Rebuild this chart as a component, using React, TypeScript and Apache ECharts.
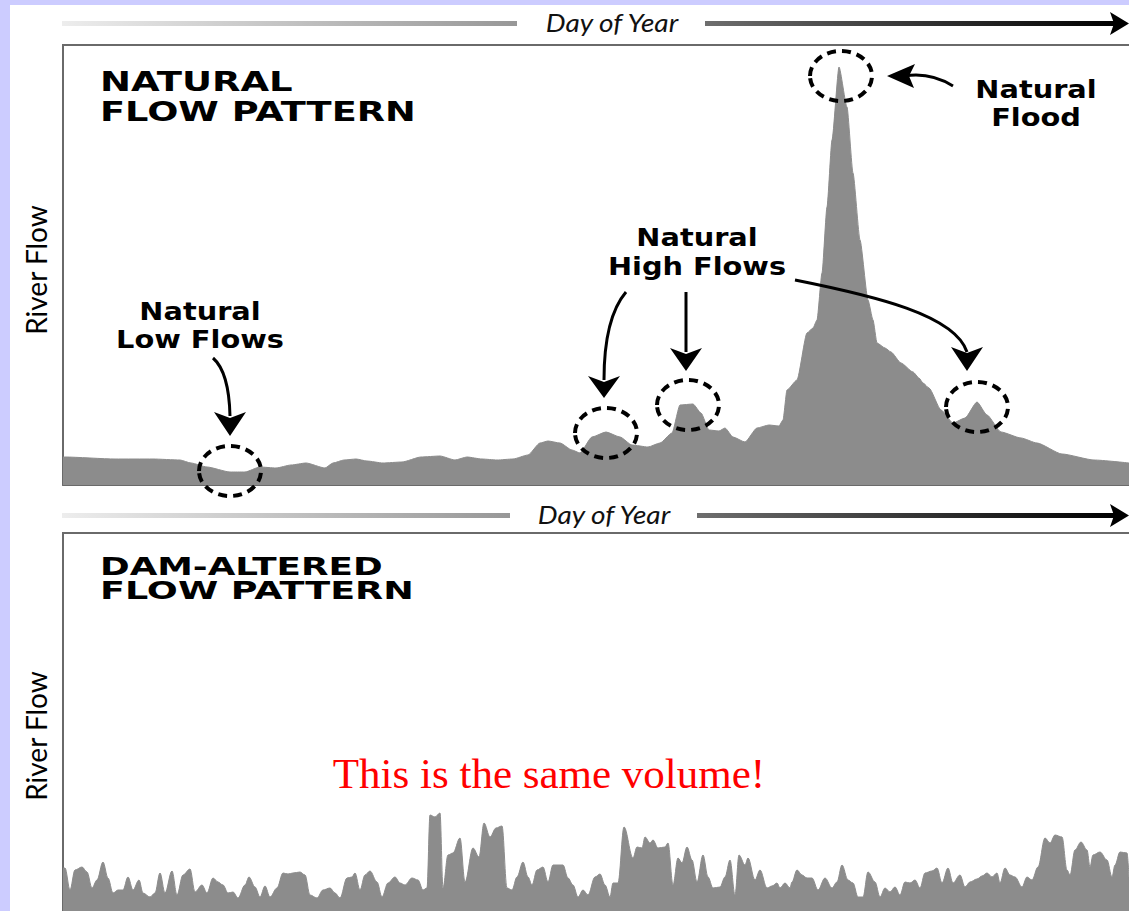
import React, { useEffect, useRef } from 'react';
import * as echarts from 'echarts';

// Natural flow pattern: position along the year (0..1066) and river flow
const naturalDay = [0, 2, 52, 90, 117, 128, 144, 167, 182, 197, 213, 228, 243, 262, 270, 281, 293, 304, 320, 339, 358, 377, 392, 404, 419, 434, 450, 465, 477, 485, 497, 509, 517, 529, 543, 557, 569, 585, 597, 609, 617, 630, 638, 646, 656, 662, 670, 682, 694, 706, 716, 720, 724, 734, 744, 750, 754, 759, 764, 769, 776, 784, 790, 797, 805, 810, 814, 822, 828, 838, 850, 856, 860, 866, 878, 890, 902, 914, 924, 938, 958, 974, 999, 1031, 1066];
const naturalFlow = [28, 28, 26, 26, 25, 22, 18, 13, 13, 18, 17, 20, 22, 17, 22, 25, 26, 24, 22, 23, 28, 29, 25, 28, 26, 25, 26, 30, 42, 44, 42, 35, 32, 48, 53, 48, 40, 38, 42, 52, 80, 81, 72, 55, 54, 57, 48, 43, 57, 60, 59, 65, 95, 105, 152, 157, 165, 212, 278, 345, 418, 378, 312, 245, 185, 165, 142, 137, 133, 122, 113, 107, 102, 97, 75, 62, 67, 83, 70, 53, 47, 42, 31, 25, 22];

// Dam-altered flow pattern
const damDay = [0, 2, 7, 12, 19, 24, 29, 34, 40, 45, 50, 55, 60, 65, 70, 76, 80, 87, 92, 97, 102, 109, 114, 120, 127, 132, 139, 144, 150, 155, 160, 165, 170, 175, 182, 186, 192, 197, 202, 207, 214, 220, 225, 230, 237, 242, 247, 254, 260, 267, 272, 277, 284, 289, 292, 297, 302, 307, 314, 319, 325, 332, 337, 342, 349, 355, 360, 364, 367, 372, 377, 380, 385, 390, 397, 402, 410, 416, 421, 427, 433, 439, 444, 449, 454, 460, 465, 469, 474, 480, 485, 490, 500, 505, 510, 515, 520, 525, 532, 537, 542, 547, 550, 555, 561, 570, 574, 579, 582, 587, 590, 595, 602, 605, 610, 615, 619, 624, 629, 634, 640, 645, 650, 657, 662, 667, 672, 676, 682, 685, 692, 697, 704, 709, 714, 717, 722, 727, 729, 734, 739, 744, 749, 755, 762, 769, 774, 779, 785, 790, 795, 800, 805, 812, 817, 822, 827, 832, 837, 842, 847, 852, 857, 862, 869, 874, 879, 885, 890, 897, 902, 907, 914, 919, 924, 929, 934, 937, 942, 947, 952, 959, 964, 969, 975, 982, 987, 992, 999, 1004, 1007, 1012, 1018, 1024, 1027, 1030, 1037, 1044, 1049, 1052, 1057, 1064, 1066];
const damFlow = [43, 43, 21, 41, 44, 39, 23, 31, 49, 33, 18, 21, 21, 34, 21, 31, 18, 14, 18, 38, 18, 40, 16, 36, 42, 19, 26, 18, 33, 29, 26, 18, 19, 13, 26, 34, 24, 14, 25, 14, 23, 38, 37, 38, 39, 36, 16, 13, 21, 23, 18, 13, 33, 34, 38, 21, 36, 40, 29, 14, 28, 34, 28, 26, 33, 31, 21, 23, 96, 94, 98, 23, 56, 58, 73, 29, 63, 54, 88, 74, 83, 85, 23, 21, 34, 49, 34, 26, 41, 44, 29, 46, 46, 33, 26, 14, 21, 16, 34, 37, 26, 14, 28, 28, 84, 53, 64, 63, 74, 68, 71, 63, 64, 68, 26, 53, 48, 64, 51, 29, 56, 34, 23, 24, 34, 51, 16, 56, 46, 53, 31, 41, 23, 25, 28, 23, 28, 23, 29, 41, 36, 33, 33, 21, 33, 23, 29, 46, 31, 28, 14, 14, 39, 29, 14, 23, 19, 24, 16, 29, 28, 31, 23, 38, 40, 43, 28, 43, 28, 36, 24, 29, 32, 35, 38, 34, 38, 28, 43, 36, 34, 24, 34, 31, 44, 73, 68, 76, 74, 41, 36, 61, 69, 61, 44, 56, 59, 51, 34, 46, 59, 58, 34];

const topTitle = ['NATURAL', 'FLOW PATTERN'];
const bottomTitle = ['DAM-ALTERED', 'FLOW PATTERN'];
const axisName = 'Day of Year';
const flowName = 'River Flow';
const note = 'This is the same volume!';

const AREA = '#8c8c8c';
const BORDER = '#6a6a6a';
const HEAD = "'DejaVu Sans', sans-serif";

function txt(text: string, x: number, y: number, opts: any = {}) {
  const { size = 24, weight = 'bold', family = HEAD, style = 'normal', align = 'left', scaleX = 1, color = '#000', rotation = 0 } = opts;
  return {
    type: 'text', x, y, scaleX, rotation, z: 20,
    style: {
      text, fontSize: size, fontWeight: weight, fontFamily: family, fontStyle: style,
      fill: color, align, textAlign: align, verticalAlign: 'middle', textVerticalAlign: 'middle',
    },
  };
}

function dashedCircle(cx: number, cy: number) {
  return {
    type: 'ellipse', z: 20,
    shape: { cx, cy, rx: 31, ry: 25 },
    style: { fill: 'none', stroke: '#000', lineWidth: 4, lineDash: [9, 6] },
  };
}

function head(points: number[][]) {
  return { type: 'polygon', z: 20, shape: { points }, style: { fill: '#000' } };
}

function arrowBar(y: number, leftEnd: number, rightStart: number) {
  return [
    {
      type: 'rect', z: 5, shape: { x: 62, y: y - 2.5, width: leftEnd - 62, height: 5 },
      style: { fill: new echarts.graphic.LinearGradient(0, 0, 1, 0, [{ offset: 0, color: '#ededed' }, { offset: 1, color: '#979797' }]) },
    },
    {
      type: 'rect', z: 5, shape: { x: rightStart, y: y - 2.5, width: 1115 - rightStart, height: 5 },
      style: { fill: new echarts.graphic.LinearGradient(0, 0, 1, 0, [{ offset: 0, color: '#6e6e6e' }, { offset: 1, color: '#000' }]) },
    },
    head([[1110, y - 11.5], [1129, y], [1110, y + 11.5], [1114, y]]),
  ];
}

export default function App() {
  const ref = useRef<HTMLDivElement>(null);
  useEffect(() => {
    const chart = echarts.init(ref.current!, null, { renderer: 'svg' });
    const naturalData = naturalDay.map((d, i) => [d, naturalFlow[i]]);
    const damData = damDay.map((d, i) => [d, damFlow[i]]);
    const hidden = { show: false };
    const option: any = {
      animation: false,
      backgroundColor: 'transparent',
      grid: [
        { left: 63, top: 45, right: 0, height: 440 },
        { left: 63, top: 533, right: 0, height: 378 },
      ],
      xAxis: [
        { type: 'value', gridIndex: 0, min: 0, max: 1066, axisLine: { show: true, onZero: false, lineStyle: { color: BORDER, width: 2 } }, axisTick: hidden, axisLabel: hidden, splitLine: hidden },
        { type: 'value', gridIndex: 1, min: 0, max: 1066, axisLine: hidden, axisTick: hidden, axisLabel: hidden, splitLine: hidden },
      ],
      yAxis: [
        { type: 'value', gridIndex: 0, min: 0, max: 440, axisLine: { show: true, lineStyle: { color: BORDER, width: 2 } }, axisTick: hidden, axisLabel: hidden, splitLine: hidden },
        { type: 'value', gridIndex: 1, min: 0, max: 378, axisLine: { show: true, lineStyle: { color: BORDER, width: 2 } }, axisTick: hidden, axisLabel: hidden, splitLine: hidden },
      ],
      series: [
        { type: 'line', xAxisIndex: 0, yAxisIndex: 0, data: naturalData, symbol: 'none', smooth: 0.2, smoothMonotone: 'x', lineStyle: { width: 1, color: AREA }, areaStyle: { color: AREA, opacity: 1 }, z: 2 },
        { type: 'line', xAxisIndex: 1, yAxisIndex: 1, data: damData, symbol: 'none', smooth: 0.35, smoothMonotone: 'x', lineStyle: { width: 1, color: AREA }, areaStyle: { color: AREA, opacity: 1 }, z: 2 },
      ],
      graphic: {
        elements: [
          // panel top borders
          { type: 'line', z: 5, shape: { x1: 62, y1: 45, x2: 1129, y2: 45 }, style: { stroke: BORDER, lineWidth: 2 } },
          { type: 'line', z: 5, shape: { x1: 62, y1: 533, x2: 1129, y2: 533 }, style: { stroke: BORDER, lineWidth: 2 } },
          ...arrowBar(23.5, 517, 705),
          ...arrowBar(515.5, 510, 697),
          txt(axisName, 612, 23, { size: 25, weight: 'normal', style: 'italic', family: 'Lato, sans-serif', align: 'center', scaleX: 1.12, color: '#111' }),
          txt(axisName, 604, 515, { size: 25, weight: 'normal', style: 'italic', family: 'Lato, sans-serif', align: 'center', scaleX: 1.12, color: '#111' }),
          txt(flowName, 36, 270, { size: 28, weight: 'normal', family: 'Lato, sans-serif', align: 'center', rotation: Math.PI / 2 }),
          txt(flowName, 36, 736, { size: 28, weight: 'normal', family: 'Lato, sans-serif', align: 'center', rotation: Math.PI / 2 }),
          txt(topTitle[0], 100, 82, { size: 27, scaleX: 1.37 }),
          txt(topTitle[1], 100, 111.5, { size: 27, scaleX: 1.36 }),
          txt(bottomTitle[0], 100, 566, { size: 25, scaleX: 1.43 }),
          txt(bottomTitle[1], 100, 590.5, { size: 25, scaleX: 1.46 }),
          txt('Natural', 200, 311, { size: 24, align: 'center', scaleX: 1.2 }),
          txt('Low Flows', 200, 339, { size: 24, align: 'center', scaleX: 1.2 }),
          txt('Natural', 697, 237, { size: 24, align: 'center', scaleX: 1.2 }),
          txt('High Flows', 697, 266, { size: 24, align: 'center', scaleX: 1.2 }),
          txt('Natural', 1036, 89, { size: 24, align: 'center', scaleX: 1.2 }),
          txt('Flood', 1036, 117, { size: 24, align: 'center', scaleX: 1.2 }),
          txt(note, 549, 773, { size: 43, weight: 'normal', family: "'Liberation Serif', 'Times New Roman', serif", align: 'center', color: '#ff0000' }),
          // circles
          dashedCircle(230, 471),
          dashedCircle(606, 433),
          dashedCircle(688, 405),
          dashedCircle(977, 407),
          dashedCircle(841, 76),
          // arrows
          { type: 'bezierCurve', z: 20, shape: { x1: 213, y1: 358, x2: 230, y2: 416, cpx1: 229, cpy1: 372 }, style: { stroke: '#000', lineWidth: 3, fill: 'none' } },
          head([[214, 412], [230, 418], [246, 412], [230, 436]]),
          { type: 'bezierCurve', z: 20, shape: { x1: 626, y1: 292, x2: 604, y2: 380, cpx1: 604, cpy1: 318 }, style: { stroke: '#000', lineWidth: 3, fill: 'none' } },
          head([[588, 376], [604, 382], [620, 376], [604, 398]]),
          { type: 'line', z: 20, shape: { x1: 686, y1: 292, x2: 686, y2: 352 }, style: { stroke: '#000', lineWidth: 3 } },
          head([[670, 348], [686, 354], [702, 348], [686, 371]]),
          { type: 'bezierCurve', z: 20, shape: { x1: 795, y1: 280, x2: 967, y2: 352, cpx1: 875, cpy1: 296, cpx2: 955, cpy2: 315 }, style: { stroke: '#000', lineWidth: 3, fill: 'none' } },
          head([[951, 347], [967, 353], [983, 347], [967, 371]]),
          { type: 'bezierCurve', z: 20, shape: { x1: 953, y1: 86, x2: 905, y2: 76, cpx1: 930, cpy1: 72 }, style: { stroke: '#000', lineWidth: 3, fill: 'none' } },
          head([[915, 64], [909, 76], [914, 88], [887, 76]]),
        ],
      },
    };
    chart.setOption(option);
    return () => chart.dispose();
  }, []);
  return (
    <div style={{ position: 'fixed', left: 0, top: 0, width: 1129, height: 911, background: '#CCCCFF', overflow: 'hidden' }}>
      <div style={{ position: 'absolute', left: 10, top: 5, right: 0, bottom: 0, background: '#ffffff' }} />
      <div ref={ref} style={{ position: 'absolute', left: 0, top: 0, width: 1129, height: 911 }} />
    </div>
  );
}
